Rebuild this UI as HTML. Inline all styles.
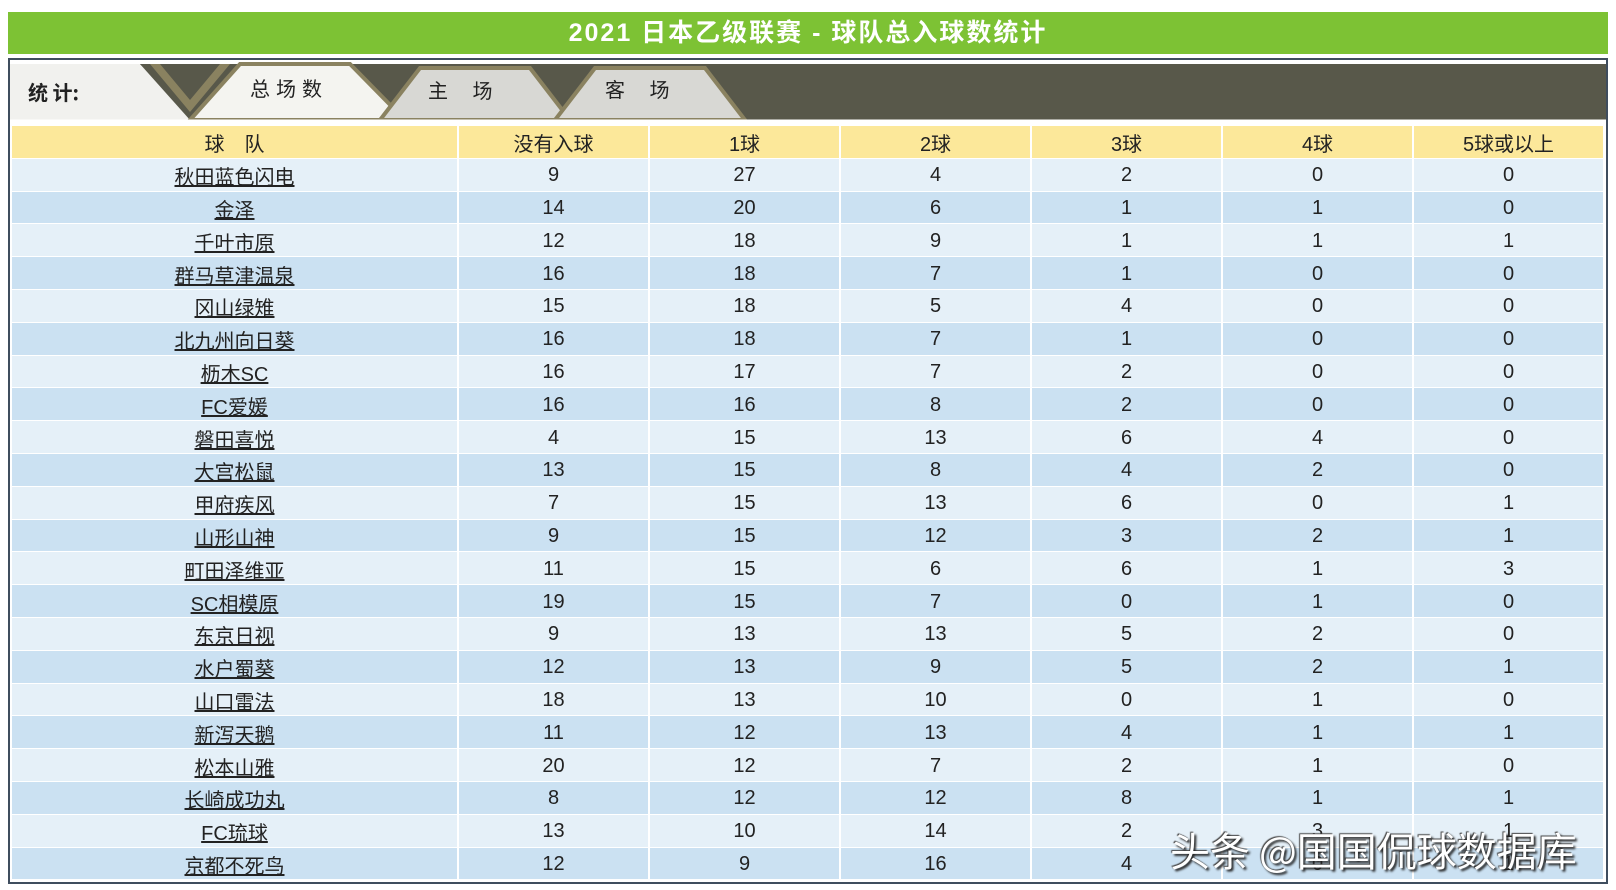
<!DOCTYPE html>
<html><head><meta charset="utf-8"><style>
body{margin:0;width:1616px;height:890px;background:#fff;position:relative;overflow:hidden;font-family:"Liberation Sans","Noto Sans CJK SC",sans-serif}
#title{position:absolute;left:8px;top:12px;width:1600px;height:42px;background:#7dc234;color:#fff;font-weight:bold;font-size:25px;text-align:center;line-height:42px;letter-spacing:2px}
#frame{position:absolute;left:8px;top:58px;width:1596px;height:822px;border:2px solid #3f4d5e}
#tabs{position:absolute;left:10px;top:60px}
table{position:absolute;left:12px;top:126px;border-collapse:collapse;width:1593px}
td{height:29.8px;padding:2px 0 0 0;text-align:center;font-size:20px;color:#222;border-right:2px solid #fff;border-bottom:1px solid #fff}
tr.h td{background:#fce89a}
tr:nth-child(even) td{background:#e5f0f8}
tr:nth-child(odd):not(.h) td{background:#cbe1f2}
td u{text-decoration:underline}
#wm{position:absolute;left:1170px;top:820px;font-size:40px;color:#fff;text-shadow:2px 2px 2px #222,-1px -1px 1px #444;font-family:"Noto Sans CJK SC",sans-serif}
</style></head><body>
<div id="title">2021 日本乙级联赛 - 球队总入球数统计</div>
<div id="frame"></div>
<svg id="tabs" width="1596" height="64">
<rect x="0" y="0" width="1596" height="64" fill="#fff"/>
<rect x="0" y="4" width="1596" height="56" fill="#58584a"/>
<polygon points="0,4 130,4 180,60 0,60" fill="#f1f1ee"/>
<polygon points="130,4 180,54 230,4" fill="#58584a"/>
<polygon points="140,4 150,4 180,40 210,4 220,4 180,52" fill="#8a8260"/>
<polygon points="180,60 230,4 340,4 395,60" fill="#f4f4f0" stroke="#8a8260" stroke-width="4"/>
<polygon points="370,60 410,8 520,8 560,60" fill="#d8d8d4" stroke="#8a8260" stroke-width="4"/>
<polygon points="545,60 585,8 695,8 735,60" fill="#d8d8d4" stroke="#8a8260" stroke-width="4"/>
<line x1="0" y1="61" x2="1596" y2="61" stroke="#fff" stroke-width="3"/>
<text x="18" y="40" font-size="20" font-weight="bold" fill="#222" font-family="Noto Sans CJK SC,sans-serif">统 计:</text>
<text x="240" y="36" font-size="20" fill="#222" letter-spacing="6" font-family="Noto Sans CJK SC,sans-serif">总场数</text>
<text x="418" y="38" font-size="20" fill="#222" font-family="Noto Sans CJK SC,sans-serif">主　 场</text>
<text x="595" y="37" font-size="20" fill="#222" font-family="Noto Sans CJK SC,sans-serif">客　 场</text>
</svg>
<table>
<colgroup><col style="width:446px"><col style="width:191px"><col style="width:191px"><col style="width:191px"><col style="width:191px"><col style="width:191px"><col></colgroup>
<tr class="h"><td>球　队</td><td>没有入球</td><td>1球</td><td>2球</td><td>3球</td><td>4球</td><td>5球或以上</td></tr>
<tr><td><u>秋田蓝色闪电</u></td><td>9</td><td>27</td><td>4</td><td>2</td><td>0</td><td>0</td></tr>
<tr><td><u>金泽</u></td><td>14</td><td>20</td><td>6</td><td>1</td><td>1</td><td>0</td></tr>
<tr><td><u>千叶市原</u></td><td>12</td><td>18</td><td>9</td><td>1</td><td>1</td><td>1</td></tr>
<tr><td><u>群马草津温泉</u></td><td>16</td><td>18</td><td>7</td><td>1</td><td>0</td><td>0</td></tr>
<tr><td><u>冈山绿雉</u></td><td>15</td><td>18</td><td>5</td><td>4</td><td>0</td><td>0</td></tr>
<tr><td><u>北九州向日葵</u></td><td>16</td><td>18</td><td>7</td><td>1</td><td>0</td><td>0</td></tr>
<tr><td><u>枥木SC</u></td><td>16</td><td>17</td><td>7</td><td>2</td><td>0</td><td>0</td></tr>
<tr><td><u>FC爱媛</u></td><td>16</td><td>16</td><td>8</td><td>2</td><td>0</td><td>0</td></tr>
<tr><td><u>磐田喜悦</u></td><td>4</td><td>15</td><td>13</td><td>6</td><td>4</td><td>0</td></tr>
<tr><td><u>大宫松鼠</u></td><td>13</td><td>15</td><td>8</td><td>4</td><td>2</td><td>0</td></tr>
<tr><td><u>甲府疾风</u></td><td>7</td><td>15</td><td>13</td><td>6</td><td>0</td><td>1</td></tr>
<tr><td><u>山形山神</u></td><td>9</td><td>15</td><td>12</td><td>3</td><td>2</td><td>1</td></tr>
<tr><td><u>町田泽维亚</u></td><td>11</td><td>15</td><td>6</td><td>6</td><td>1</td><td>3</td></tr>
<tr><td><u>SC相模原</u></td><td>19</td><td>15</td><td>7</td><td>0</td><td>1</td><td>0</td></tr>
<tr><td><u>东京日视</u></td><td>9</td><td>13</td><td>13</td><td>5</td><td>2</td><td>0</td></tr>
<tr><td><u>水户蜀葵</u></td><td>12</td><td>13</td><td>9</td><td>5</td><td>2</td><td>1</td></tr>
<tr><td><u>山口雷法</u></td><td>18</td><td>13</td><td>10</td><td>0</td><td>1</td><td>0</td></tr>
<tr><td><u>新泻天鹅</u></td><td>11</td><td>12</td><td>13</td><td>4</td><td>1</td><td>1</td></tr>
<tr><td><u>松本山雅</u></td><td>20</td><td>12</td><td>7</td><td>2</td><td>1</td><td>0</td></tr>
<tr><td><u>长崎成功丸</u></td><td>8</td><td>12</td><td>12</td><td>8</td><td>1</td><td>1</td></tr>
<tr><td><u>FC琉球</u></td><td>13</td><td>10</td><td>14</td><td>2</td><td>3</td><td>1</td></tr>
<tr><td><u>京都不死鸟</u></td><td>12</td><td>9</td><td>16</td><td>4</td><td>0</td><td>1</td></tr>
</table>
<div id="wm">头条 @国国侃球数据库</div>
</body></html>
